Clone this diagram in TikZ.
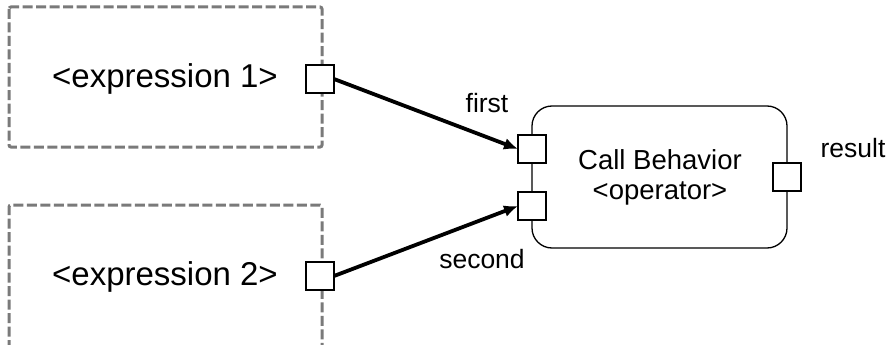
\documentclass[tikz,border=0pt]{standalone}
\usepackage{fontspec}
\setmainfont{Liberation Sans}
\usetikzlibrary{arrows.meta}
\definecolor{dashgray}{HTML}{7A7A7A}
\begin{document}
\begin{tikzpicture}[x=1pt,y=-1pt,
  exprbox/.style={draw=dashgray, line width=3pt, dash pattern=on 10pt off 3.5pt, rounded corners=2pt},
  pin/.style={draw=black, fill=white, line width=1.4pt, minimum size=28pt, inner sep=0pt, outer sep=0pt},
  flow/.style={line width=3.8pt, -{Latex[length=14pt,width=12pt]}},
  exprtext/.style={font=\fontsize{33}{36}\selectfont, inner sep=0pt},
  lbl/.style={font=\fontsize{26.5}{30}\selectfont, inner sep=0pt},
  action/.style={draw=black, line width=1.3pt, rounded corners=20pt}
]
\useasboundingbox (0,0) rectangle (891,345);
% expression boxes
\draw[exprbox] (9,7) rectangle (322,147);
\draw[exprbox] (9,350) -- (9,205) -- (322,205) -- (322,350);
\node[exprtext] (e1) at (165,79) {<expression 1>};
\node[exprtext] (e2) at (165,277) {<expression 2>};
% call behavior action
\draw[action] (532,106) rectangle (787,248);
\node[font=\fontsize{27.5}{30}\selectfont, align=center, inner sep=0pt] (cb) at (660,177) {Call Behavior\\<operator>};
% pins
\node[pin] (p1) at (320,79) {};
\node[pin] (p2) at (320,276) {};
\node[pin] (in1) at (532,149) {};
\node[pin] (in2) at (532,206) {};
\node[pin] (res) at (787,177) {};
% flows
\draw[flow] (p1.east) -- (in1.west);
\draw[flow] (p2.east) -- (in2.west);
% labels
\node[lbl] (lfirst) at (487,103) {first};
\node[lbl] (lsecond) at (482,259) {second};
\node[lbl] (lresult) at (853,148) {result};
\end{tikzpicture}
\end{document}
